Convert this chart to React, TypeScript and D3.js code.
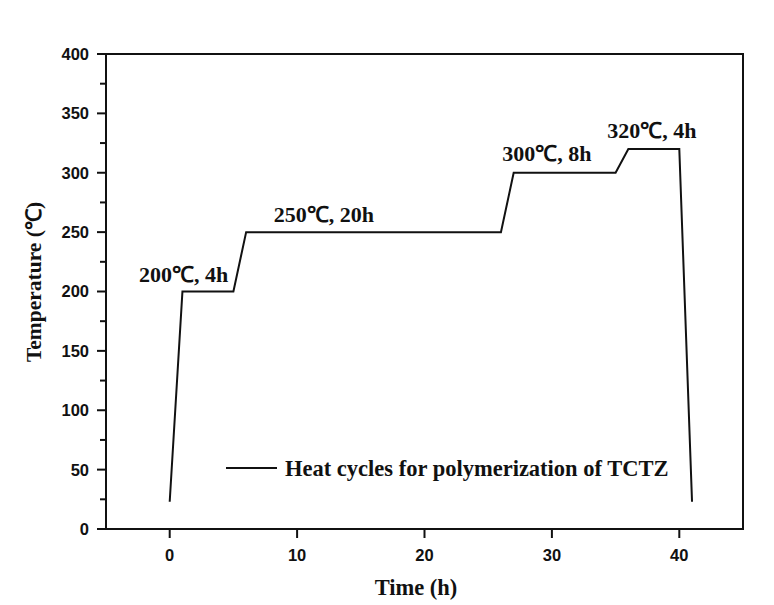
import React from "react";
import * as d3 from "d3";

const timeH = [0, 1, 5, 6, 26, 27, 35, 36, 40, 41];
const tempC = [23, 200, 200, 250, 250, 300, 300, 320, 320, 23];

const xTicks = [0, 10, 20, 30, 40];
const yTicks = [0, 50, 100, 150, 200, 250, 300, 350, 400];
const yMinorTicks = [25, 75, 125, 175, 225, 275, 325, 375];

const annoText = ["200℃, 4h", "250℃, 20h", "300℃, 8h", "320℃, 4h"];
const annoX = [1.1, 12.1, 29.6, 37.85];
const annoY = [208, 258.5, 310, 329];

const legendLabel = "Heat cycles for polymerization of TCTZ";
const xTitle = "Time (h)";
const yTitle = "Temperature (℃)";

const W = 774;
const H = 605;
const m = { left: 106, right: 743, top: 54, bottom: 529 };

export default function App() {
  const x = d3.scaleLinear().domain([-5, 45]).range([m.left, m.right]);
  const y = d3.scaleLinear().domain([0, 400]).range([m.bottom, m.top]);
  const pts = timeH.map((t, i) => [t, tempC[i]] as [number, number]);
  const line = d3
    .line<[number, number]>()
    .x((d) => x(d[0]))
    .y((d) => y(d[1]));

  const serif = "'Liberation Serif', 'Times New Roman', serif";
  const sans = "'Liberation Sans', Arial, sans-serif";

  return (
    <svg
      width={W}
      height={H}
      style={{ position: "absolute", left: 0, top: 0, display: "block", background: "#fff" }}
    >
      <rect x={0} y={0} width={W} height={H} fill="#fff" />
      <rect
        x={m.left}
        y={m.top}
        width={m.right - m.left}
        height={m.bottom - m.top}
        fill="none"
        stroke="#111"
        strokeWidth={2}
      />
      {yTicks.map((v) => (
        <g key={"y" + v}>
          <line x1={m.left - 9} x2={m.left} y1={y(v)} y2={y(v)} stroke="#111" strokeWidth={2} />
          <text
            x={m.left - 17}
            y={y(v)}
            dy="0.36em"
            textAnchor="end"
            fontFamily={sans}
            fontWeight="bold"
            fontSize={16.5}
            fill="#111"
          >
            {v}
          </text>
        </g>
      ))}
      {yMinorTicks.map((v) => (
        <line key={"ym" + v} x1={m.left - 6} x2={m.left} y1={y(v)} y2={y(v)} stroke="#111" strokeWidth={2} />
      ))}
      {xTicks.map((v) => (
        <g key={"x" + v}>
          <line x1={x(v)} x2={x(v)} y1={m.bottom} y2={m.bottom + 9} stroke="#111" strokeWidth={2} />
          <text
            x={x(v)}
            y={561}
            textAnchor="middle"
            fontFamily={sans}
            fontWeight="bold"
            fontSize={16.5}
            fill="#111"
          >
            {v}
          </text>
        </g>
      ))}
      <text
        x={416}
        y={595}
        textAnchor="middle"
        fontFamily={serif}
        fontWeight="bold"
        fontSize={22.5}
        fill="#111"
      >
        {xTitle}
      </text>
      <text
        transform={`translate(41, 282) rotate(-90)`}
        textAnchor="middle"
        fontFamily={serif}
        fontWeight="bold"
        fontSize={21.5}
        fill="#111"
      >
        {yTitle}
      </text>
      <path d={line(pts) || ""} fill="none" stroke="#111" strokeWidth={2} />
      {annoText.map((t, i) => (
        <text
          key={t}
          x={x(annoX[i])}
          y={y(annoY[i])}
          textAnchor="middle"
          fontFamily={serif}
          fontWeight="bold"
          fontSize={22}
          fill="#111"
        >
          {t}
        </text>
      ))}
      <line x1={226} x2={277} y1={468} y2={468} stroke="#111" strokeWidth={2} />
      <text x={285} y={476} fontFamily={serif} fontWeight="bold" fontSize={22.5} fill="#111">
        {legendLabel}
      </text>
    </svg>
  );
}
